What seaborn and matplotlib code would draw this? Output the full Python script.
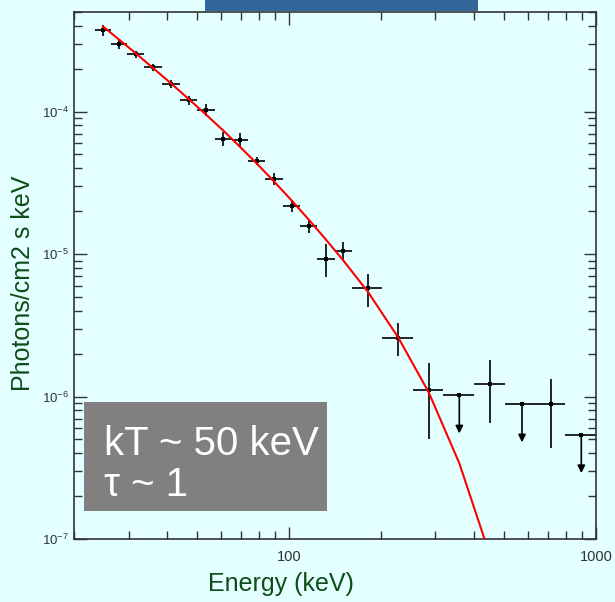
import matplotlib
matplotlib.use("Agg")
import matplotlib.pyplot as plt
from matplotlib.patches import Rectangle
import seaborn as sns
import pandas as pd
import numpy as np

# spectrum bins (keV)
energy = [24.7, 28.0, 31.7, 36.1, 41.4, 47.1, 53.7, 61.0, 69.2, 78.5, 89.6, 102.3,
          116.2, 132.0, 150.3, 180.8, 227.0, 285.1, 358.7, 452.6, 574.1, 713.6, 895.7]
e_lo = [23.3, 26.3, 29.7, 33.7, 38.7, 44.2, 50.3, 57.3, 65.1, 73.7, 83.5, 95.4,
        108.6, 123.1, 141.2, 160.1, 201.3, 252.8, 318.2, 400.6, 504.2, 634.2, 794.3]
e_hi = [26.3, 29.7, 33.7, 38.7, 44.2, 50.3, 57.3, 65.1, 73.7, 83.5, 95.4, 108.6,
        123.1, 141.2, 160.1, 201.3, 252.8, 318.2, 400.6, 504.2, 634.2, 794.3, 1000.0]
flux = [3.71e-4, 2.97e-4, 2.52e-4, 2.05e-4, 1.555e-4, 1.20e-4, 1.03e-4, 6.46e-5,
        6.36e-5, 4.52e-5, 3.38e-5, 2.18e-5, 1.57e-5, 9.27e-6, 1.055e-5, 5.77e-6,
        2.59e-6, 1.107e-6, 1.02e-6, 1.226e-6, 8.83e-7, 8.83e-7, 5.37e-7]
flux_err = [3.4e-5, 2.07e-5, 1.51e-5, 1.23e-5, 1.01e-5, 8.2e-6, 9.2e-6, 7.3e-6,
            6.9e-6, 3.1e-6, 3.2e-6, 2.2e-6, 1.7e-6, 2.4e-6, 1.5e-6, 1.5e-6,
            6.8e-7, 6.0e-7, 0.0, 5.75e-7, 0.0, 4.45e-7, 0.0]
upper_limit = [False] * 18 + [True, False, True, False, True]

# comptonization model evaluated at bin centres
model_energy = [24.7, 28.0, 31.7, 36.1, 41.4, 47.1, 53.7, 61.0, 69.2, 78.5, 89.6,
                102.3, 116.2, 132.0, 150.3, 180.8, 227.0, 285.1, 358.7, 452.6]
model_flux = [3.976e-4, 3.19e-4, 2.561e-4, 2.015e-4, 1.568e-4, 1.224e-4, 9.51e-5,
              7.37e-5, 5.66e-5, 4.32e-5, 3.21e-5, 2.36e-5, 1.734e-5, 1.26e-5,
              9.0e-6, 5.42e-6, 2.59e-6, 1.07e-6, 3.40e-7, 7.55e-8]

bg = "#e3ffff"
green = "#0d4d17"

sns.set_style("ticks")
plt.rcParams["font.family"] = ["Liberation Sans", "DejaVu Sans"]
plt.rcParams["mathtext.default"] = "regular"

df = pd.DataFrame({"energy": energy, "lo": e_lo, "hi": e_hi, "flux": flux,
                   "err": flux_err, "ul": upper_limit})
mdf = pd.DataFrame({"energy": model_energy, "flux": model_flux})

fig = plt.figure(figsize=(6.15, 6.02), dpi=100, facecolor=bg)
ax = fig.add_axes([0.1211, 0.1047, 0.848, 0.8754])
ax.set_facecolor(bg)
ax.set_xscale("log")
ax.set_yscale("log")

xerr = np.array([df["energy"] - df["lo"], df["hi"] - df["energy"]])
ax.errorbar(df["energy"], df["flux"], xerr=xerr, yerr=df["err"], fmt="none",
            ecolor="black", elinewidth=1.2, capsize=0, zorder=2)

# upper limits: arrows pointing down
for _, r in df[df["ul"]].iterrows():
    ax.annotate("", xy=(r["energy"], r["flux"] * 0.54), xytext=(r["energy"], r["flux"]),
                arrowprops=dict(arrowstyle="-|>", color="black", lw=1.2,
                                mutation_scale=11, shrinkA=0, shrinkB=0), zorder=3)

sns.scatterplot(data=df, x="energy", y="flux", marker="s", s=10, color="black",
                edgecolor="black", linewidth=0, ax=ax, zorder=4)
sns.lineplot(data=mdf, x="energy", y="flux", sort=False, color="red", lw=1.5,
             ax=ax, zorder=5)

ax.set_xlim(20, 1000)
ax.set_ylim(1e-7, 5e-4)
ax.set_xticks([100, 1000], ["100", "1000"])
ax.set_yticks([1e-7, 1e-6, 1e-5, 1e-4])

ax.tick_params(which="both", direction="in", top=True, right=True, colors="#333333",
               width=1.0)
ax.tick_params(which="major", length=9)
ax.tick_params(which="minor", length=5.5)
ax.tick_params(axis="x", which="major", labelsize=10.5, pad=8)
ax.tick_params(axis="y", which="major", labelsize=9.5, pad=4)
for sp in ax.spines.values():
    sp.set_color("#333333")
    sp.set_linewidth(1.2)

ax.set_xlabel("Energy (keV)", fontsize=18, color=green)
ax.set_ylabel("Photons/cm2 s keV", fontsize=18, color=green)
ax.xaxis.set_label_coords(0.396, -0.062)
ax.yaxis.set_label_coords(-0.075, 0.486)

# title bar remnant at top
fig.patches.append(Rectangle((0.3333, 0.981), 0.4439, 0.019, transform=fig.transFigure,
                             facecolor="#336699", edgecolor="none", zorder=10))

# parameter box
fig.patches.append(Rectangle((0.1366, 0.1512), 0.395, 0.181, transform=fig.transFigure,
                             facecolor="#808080", edgecolor="none", zorder=10))
fig.text(0.169, 0.244, "kT ~ 50 keV", fontsize=29, color="white", zorder=11,
         va="baseline")
fig.text(0.169, 0.176, "\u03c4 ~ 1", fontsize=29, color="white", zorder=11,
         va="baseline")

fig.savefig("out.png", dpi=100, facecolor=bg)
